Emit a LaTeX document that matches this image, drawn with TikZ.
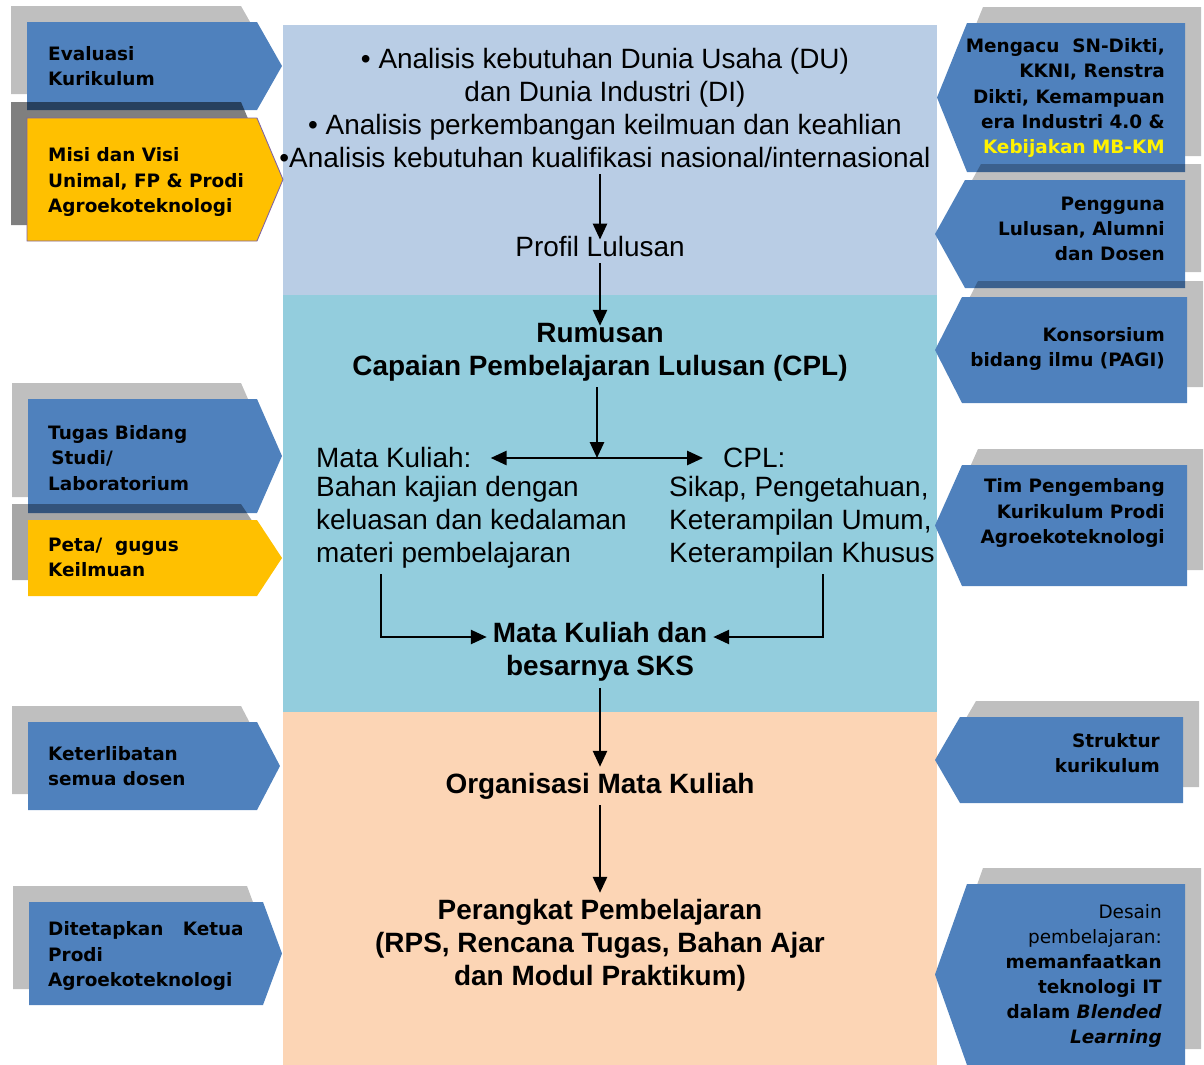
\documentclass[tikz,border=0pt]{standalone}
\usepackage{fontspec}
\setmainfont{Liberation Sans}
\newfontfamily\boxfont{DejaVu Sans}
\usetikzlibrary{arrows.meta, positioning}
\definecolor{bandA}{HTML}{B9CDE5}
\definecolor{bandB}{HTML}{93CDDD}
\definecolor{bandC}{HTML}{FCD5B5}
\definecolor{boxblue}{HTML}{4F81BD}
\definecolor{boxgold}{HTML}{FFC000}
\definecolor{goldedge}{HTML}{8064A2}
\tikzset{
	flow/.style={font=\fontsize{15.9}{18.8}\selectfont, align=center},
	flowb/.style={flow, font=\fontsize{15.9}{18.8}\selectfont\bfseries},
	side/.style={font=\boxfont\bfseries\fontsize{10.5}{14.3}\selectfont, align=left, anchor=west},
	sider/.style={side, align=right, anchor=east},
	lshade/.style={fill=black, opacity=0.25, shift={(-16,-16)}},
	rshade/.style={fill=black, opacity=0.25, shift={(16,-16)}},
}
% pointed side panel: style, outer x, top, inner x, bottom, tip x
\newcommand{\sidepanel}[6]{\fill[#1] (#2,#3) -- (#4,#3) -- (#6,{(#3+#5)/2}) -- (#4,#5) -- (#2,#5) -- cycle;}

\begin{document}
\begin{tikzpicture}[x=0.02cm, y=-0.02cm]
	\useasboundingbox (0,0) rectangle (1204,1065);
	
	% bands
	\fill[bandA] (283,25) rectangle (937,295);
	\fill[bandB] (283,295) rectangle (937,712);
	\fill[bandC] (283,712) rectangle (937,1065);
	
	% left panels
	\sidepanel{lshade}{27}{22}{257}{110}{282}
	\sidepanel{boxblue}{27}{22}{257}{110}{282}
	\sidepanel{lshade, opacity=0.5}{27}{118}{257}{241}{283}
	\sidepanel{boxgold, draw=goldedge, line width=0.5pt}{27}{118}{257}{241}{283}
	\sidepanel{lshade}{28}{399}{257}{513}{282}
	\sidepanel{boxblue}{28}{399}{257}{513}{282}
	\sidepanel{lshade, opacity=0.35}{28}{520}{257}{596}{282}
	\sidepanel{boxgold}{28}{520}{257}{596}{282}
	\sidepanel{lshade}{28}{722}{257}{810}{280}
	\sidepanel{boxblue}{28}{722}{257}{810}{280}
	\sidepanel{lshade}{29}{902}{263}{1005}{282}
	\sidepanel{boxblue}{29}{902}{263}{1005}{282}
	
	% right panels
	\sidepanel{rshade}{1185}{23}{967}{172}{937}
	\sidepanel{boxblue}{1185}{23}{967}{172}{937}
	\sidepanel{rshade}{1185}{180}{965}{288}{935}
	\sidepanel{boxblue}{1185}{180}{965}{288}{935}
	\sidepanel{rshade}{1187}{297}{962}{403}{935}
	\sidepanel{boxblue}{1187}{297}{962}{403}{935}
	\sidepanel{rshade}{1187}{465}{962}{586}{935}
	\sidepanel{boxblue}{1187}{465}{962}{586}{935}
	\sidepanel{rshade}{1183}{717}{960}{803}{935}
	\sidepanel{boxblue}{1183}{717}{960}{803}{935}
	\sidepanel{rshade}{1185}{884}{967}{1065}{935}
	\sidepanel{boxblue}{1185}{884}{967}{1065}{935}
	
	\node[side] (evk) at (42,66) {Evaluasi\\Kurikulum};
	\node[side] (misi) at (42,182) {Misi dan Visi\\Unimal, FP \& Prodi\\Agroekoteknologi};
	\node[side] (tugas) at (42,458) {Tugas Bidang\\\,Studi/\\Laboratorium};
	\node[side] (peta) at (42,557) {Peta/~~gugus\\Keilmuan};
	\node[side] (libat) at (42,766) {Keterlibatan\\semua dosen};
	\node[side] (tetap) at (42,956) {Ditetapkan~~~Ketua\\Prodi\\Agroekoteknologi};
	
	\node[sider] (acuan) at (1171,98) {Mengacu~~SN-Dikti,\\KKNI, Renstra\\Dikti, Kemampuan\\era Industri 4.0 \&\\\textcolor{yellow}{Kebijakan MB-KM}};
	\node[sider] (guna) at (1171,229) {Pengguna\\Lulusan, Alumni\\dan Dosen};
	\node[sider] (kons) at (1171,349) {Konsorsium\\bidang ilmu (PAGI)};
	\node[sider] (tim) at (1171,513) {Tim Pengembang\\Kurikulum Prodi\\Agroekoteknologi};
	\node[sider] (struk) at (1166,753) {Struktur\\kurikulum};
	\node[sider] (desain) at (1168,976) {\mdseries Desain\\\mdseries pembelajaran:\\\bfseries memanfaatkan\\teknologi IT\\dalam \textit{Blended}\\\textit{Learning}};
	
	% flow
	\node[flow] (bul) at (605,108) {\textbullet{} Analisis kebutuhan Dunia Usaha (DU)\\dan Dunia Industri (DI)\\\textbullet{} Analisis perkembangan keilmuan dan keahlian\\\textbullet Analisis kebutuhan kualifikasi nasional/internasional};
	\node[flow] (prof) at (600,247) {Profil Lulusan};
	\node[flowb] (rum) at (600,352) {Rumusan\\Capaian Pembelajaran Lulusan (CPL)};
	\node[flow, anchor=west] (mkh) at (310,458) {Mata Kuliah:};
	\node[flow, align=left, anchor=west] (mkb) at (310,522) {Bahan kajian dengan\\keluasan dan kedalaman\\materi pembelajaran};
	\node[flow, anchor=west] (cplh) at (717,458) {CPL:};
	\node[flow, align=left, anchor=west] (cplb) at (663,522) {Sikap, Pengetahuan,\\Keterampilan Umum,\\Keterampilan Khusus};
	\node[flowb] (sks) at (600,652) {Mata Kuliah dan\\besarnya SKS};
	\node[flowb] (org) at (600,786) {Organisasi Mata Kuliah};
	\node[flowb] (per) at (600,945) {Perangkat Pembelajaran\\(RPS, Rencana Tugas, Bahan Ajar\\dan Modul Praktikum)};
	
	\coordinate (jn) at (597,458);
	\coordinate (lx) at (381,0);
	\coordinate (rx) at (823,0);
	
	\begin{scope}[line width=1.2pt, black, ->, >={Triangle[length=9pt,width=8pt]}]
		\draw[shorten >=-0.18cm] (bul.south -| prof.north) -- (prof.north);
		\draw[shorten >=-0.18cm] (prof) -- (rum);
		\draw (rum.south -| jn) -- (jn);
		\draw[shorten >=0.26cm] (jn) -- (mkh.east);
		\draw[shorten >=0.28cm] (jn) -- (cplh.west);
		\draw (mkb.south -| lx) |- ([yshift=0.3cm]sks.west);
		\draw (cplb.south -| rx) |- ([yshift=0.3cm]sks.east);
		\draw (sks) -- (org);
		\draw (org) -- (per);
	\end{scope}
\end{tikzpicture}
\end{document}
